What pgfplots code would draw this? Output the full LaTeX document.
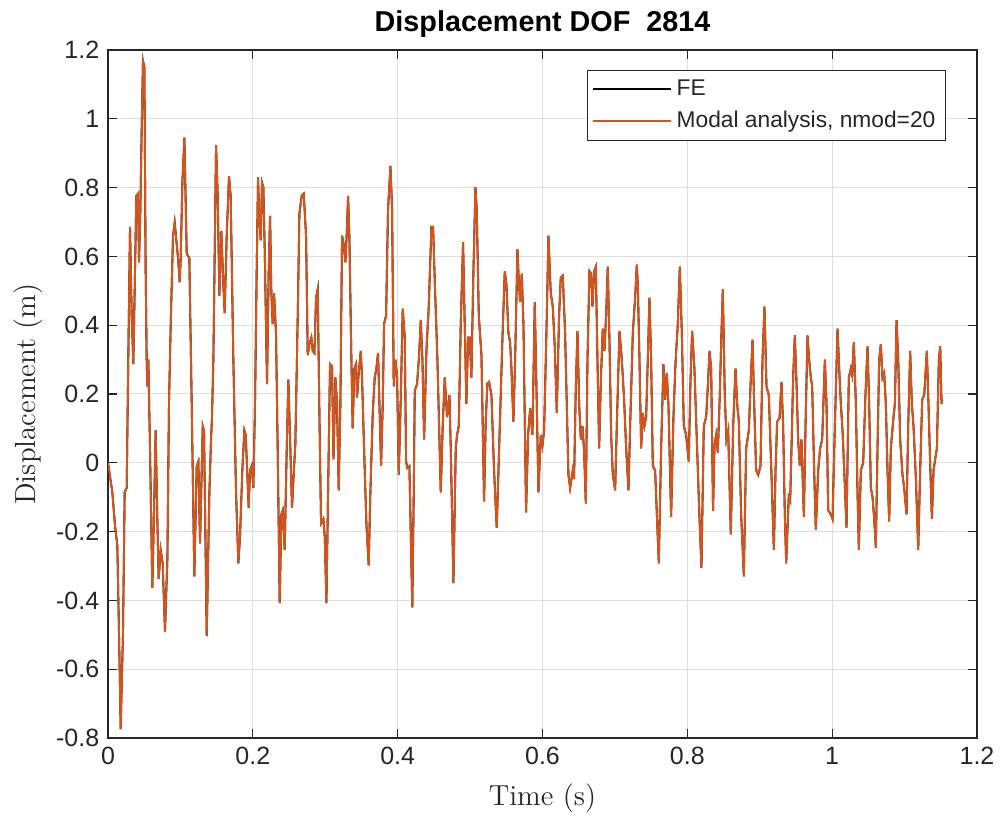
\documentclass[border=0pt]{standalone}
\usepackage{fontspec}
\setsansfont{Liberation Sans}
\usepackage{pgfplots}
\usepackage{pgfplotstable}
\pgfplotsset{compat=1.18}
\definecolor{morange}{rgb}{0.85,0.325,0.098}
\definecolor{mgray}{rgb}{0.15,0.15,0.15}
\definecolor{mgrid}{rgb}{0.875,0.875,0.875}

\pgfplotstableread{
t v
0.0000 0.000
0.0060 -0.086
0.0097 -0.183
0.0129 -0.240
0.0161 -0.600
0.0175 -0.774
0.0207 -0.498
0.0230 -0.086
0.0258 -0.073
0.0280 0.300
0.0304 0.686
0.0327 0.428
0.0350 0.287
0.0373 0.557
0.0391 0.776
0.0414 0.782
0.0428 0.583
0.0446 0.724
0.0465 0.968
0.0483 1.168
0.0502 1.149
0.0520 0.557
0.0534 0.300
0.0543 0.222
0.0557 0.300
0.0580 0.042
0.0612 -0.363
0.0635 -0.150
0.0658 0.094
0.0681 -0.163
0.0700 -0.337
0.0727 -0.253
0.0755 -0.292
0.0787 -0.491
0.0820 -0.279
0.0842 0.171
0.0866 0.403
0.0898 0.660
0.0921 0.698
0.0944 0.647
0.0967 0.595
0.0990 0.525
0.1004 0.595
0.1027 0.814
0.1055 0.945
0.1087 0.608
0.1123 0.595
0.1156 0.171
0.1192 -0.330
0.1225 -0.009
0.1248 0.004
0.1271 -0.234
0.1308 0.107
0.1326 0.094
0.1363 -0.504
0.1400 -0.086
0.1423 0.068
0.1436 0.133
0.1455 0.300
0.1492 0.923
0.1515 0.776
0.1538 0.486
0.1565 0.673
0.1593 0.518
0.1611 0.435
0.1639 0.660
0.1671 0.833
0.1694 0.776
0.1731 0.300
0.1768 -0.086
0.1800 -0.292
0.1823 -0.215
0.1855 -0.022
0.1883 0.094
0.1902 0.081
0.1924 -0.035
0.1943 -0.131
0.1961 -0.022
0.1984 -0.009
0.2007 -0.073
0.2030 0.171
0.2053 0.557
0.2072 0.830
0.2090 0.711
0.2109 0.647
0.2127 0.814
0.2145 0.801
0.2164 0.621
0.2196 0.229
0.2219 0.557
0.2238 0.718
0.2256 0.493
0.2274 0.403
0.2293 0.493
0.2320 0.377
0.2343 0.042
0.2371 -0.408
0.2394 -0.150
0.2413 -0.138
0.2440 -0.253
0.2468 0.042
0.2491 0.242
0.2518 0.042
0.2541 -0.131
0.2564 -0.035
0.2587 0.055
0.2620 0.428
0.2643 0.724
0.2675 0.776
0.2703 0.782
0.2735 0.660
0.2758 0.313
0.2781 0.345
0.2808 0.364
0.2827 0.325
0.2850 0.319
0.2873 0.480
0.2896 0.505
0.2919 0.145
0.2942 -0.176
0.2974 -0.163
0.2993 -0.215
0.3016 -0.408
0.3039 -0.086
0.3066 0.287
0.3094 0.280
0.3114 0.010
0.3140 0.248
0.3163 0.171
0.3186 -0.080
0.3209 0.171
0.3232 0.660
0.3255 0.634
0.3278 0.583
0.3301 0.686
0.3315 0.776
0.3333 0.660
0.3361 0.300
0.3379 0.100
0.3402 0.274
0.3425 0.287
0.3439 0.190
0.3462 0.261
0.3490 0.325
0.3508 0.248
0.3536 0.042
0.3568 -0.176
0.3600 -0.298
0.3623 -0.086
0.3656 0.145
0.3683 0.248
0.3706 0.274
0.3729 0.319
0.3748 0.171
0.3771 -0.009
0.3794 0.171
0.3812 0.403
0.3840 0.428
0.3867 0.737
0.3900 0.863
0.3923 0.737
0.3946 0.222
0.3969 0.300
0.3992 0.250
0.4015 -0.035
0.4038 0.145
0.4070 0.448
0.4098 0.364
0.4116 0.004
0.4134 -0.015
0.4162 -0.010
0.4185 -0.250
0.4202 -0.420
0.4222 -0.086
0.4236 0.210
0.4268 0.229
0.4296 0.313
0.4319 0.415
0.4342 0.300
0.4365 0.068
0.4397 0.325
0.4429 0.454
0.4466 0.686
0.4489 0.686
0.4512 0.531
0.4549 0.300
0.4595 -0.086
0.4622 0.107
0.4650 0.248
0.4682 0.133
0.4715 0.197
0.4733 0.042
0.4770 -0.350
0.4802 0.042
0.4820 0.081
0.4844 0.107
0.4871 0.403
0.4903 0.641
0.4926 0.403
0.4949 0.171
0.4972 0.364
0.4995 0.364
0.5018 0.248
0.5046 0.557
0.5074 0.801
0.5092 0.737
0.5120 0.428
0.5157 0.313
0.5193 -0.112
0.5216 0.120
0.5239 0.230
0.5262 0.235
0.5295 0.197
0.5331 -0.022
0.5368 -0.189
0.5401 0.042
0.5447 0.364
0.5479 0.557
0.5502 0.518
0.5529 0.377
0.5552 0.351
0.5571 0.274
0.5598 0.120
0.5622 0.300
0.5654 0.621
0.5672 0.531
0.5691 0.467
0.5714 0.550
0.5737 0.403
0.5773 -0.144
0.5801 0.081
0.5829 0.158
0.5861 0.081
0.5893 0.467
0.5921 0.171
0.5944 -0.086
0.5976 0.081
0.5999 0.049
0.6022 0.094
0.6054 0.377
0.6082 0.660
0.6114 0.493
0.6142 0.454
0.6169 0.338
0.6197 0.145
0.6229 0.428
0.6252 0.538
0.6280 0.544
0.6312 0.377
0.6335 0.171
0.6358 -0.035
0.6381 -0.073
0.6418 -0.022
0.6436 -0.047
0.6460 0.222
0.6483 0.383
0.6506 0.171
0.6529 0.068
0.6552 0.107
0.6575 0.030
0.6598 -0.118
0.6621 0.300
0.6648 0.557
0.6671 0.550
0.6690 0.454
0.6713 0.557
0.6736 0.570
0.6759 0.300
0.6782 0.042
0.6805 0.235
0.6832 0.390
0.6855 0.325
0.6878 0.428
0.6901 0.570
0.6924 0.364
0.6948 0.081
0.6971 -0.035
0.7003 -0.080
0.7026 0.107
0.7063 0.383
0.7095 0.300
0.7127 0.184
0.7155 0.042
0.7187 -0.080
0.7210 0.107
0.7247 0.377
0.7279 0.480
0.7302 0.576
0.7316 0.518
0.7339 0.300
0.7362 0.042
0.7385 0.145
0.7408 0.107
0.7431 0.133
0.7454 0.300
0.7477 0.480
0.7500 0.300
0.7523 -0.009
0.7555 -0.022
0.7606 -0.292
0.7638 0.042
0.7670 0.287
0.7693 0.184
0.7716 0.261
0.7739 0.171
0.7776 -0.157
0.7808 0.133
0.7836 0.287
0.7868 0.403
0.7896 0.570
0.7924 0.377
0.7951 0.107
0.7983 0.081
0.8020 0.004
0.8043 0.235
0.8066 0.383
0.8098 0.274
0.8135 0.042
0.8168 -0.163
0.8195 -0.305
0.8227 0.107
0.8260 0.133
0.8283 0.222
0.8306 0.325
0.8329 0.274
0.8355 -0.140
0.8375 0.050
0.8398 0.081
0.8421 0.030
0.8448 0.197
0.8471 0.377
0.8490 0.505
0.8517 0.197
0.8540 0.068
0.8564 0.094
0.8600 -0.208
0.8633 0.107
0.8665 0.274
0.8688 0.171
0.8711 0.120
0.8743 -0.150
0.8780 -0.330
0.8812 0.042
0.8849 0.094
0.8872 0.222
0.8900 0.358
0.8923 0.171
0.8950 -0.022
0.8978 -0.035
0.9010 -0.009
0.9038 0.300
0.9065 0.454
0.9093 0.222
0.9125 0.197
0.9162 -0.035
0.9195 -0.253
0.9218 -0.022
0.9240 0.120
0.9273 0.130
0.9300 0.235
0.9323 0.107
0.9346 -0.150
0.9365 -0.292
0.9400 -0.100
0.9420 -0.110
0.9445 0.100
0.9461 0.248
0.9484 0.370
0.9507 0.235
0.9530 0.068
0.9553 -0.009
0.9576 0.068
0.9609 -0.157
0.9632 0.107
0.9659 0.370
0.9682 0.300
0.9705 0.248
0.9724 0.222
0.9751 -0.022
0.9774 -0.195
0.9807 -0.022
0.9834 0.042
0.9862 0.068
0.9899 0.300
0.9922 0.171
0.9945 -0.138
0.9982 -0.150
1.0005 -0.163
1.0037 0.107
1.0074 0.390
1.0097 0.274
1.0120 0.171
1.0143 0.094
1.0166 -0.022
1.0198 -0.189
1.0230 0.248
1.0258 0.274
1.0276 0.255
1.0299 0.351
1.0327 0.171
1.0350 -0.086
1.0368 -0.253
1.0396 -0.022
1.0428 0.000
1.0460 0.200
1.0488 0.338
1.0511 0.171
1.0534 -0.073
1.0557 -0.099
1.0580 -0.163
1.0603 -0.247
1.0626 0.042
1.0649 0.300
1.0672 0.345
1.0695 0.248
1.0718 0.261
1.0741 0.171
1.0764 -0.022
1.0787 -0.170
1.0810 0.042
1.0847 0.133
1.0866 0.171
1.0889 0.415
1.0912 0.300
1.0939 0.068
1.0971 -0.035
1.0994 -0.073
1.1027 -0.150
1.1050 0.107
1.1077 0.325
1.1100 0.171
1.1123 0.107
1.1156 -0.047
1.1188 -0.253
1.1215 -0.022
1.1243 0.184
1.1271 0.197
1.1307 0.325
1.1330 0.171
1.1354 -0.009
1.1377 -0.163
1.1400 -0.022
1.1427 0.017
1.1446 0.042
1.1473 0.300
1.1492 0.338
1.1510 0.171
1.1520 0.184
}\data

\begin{document}
\begin{tikzpicture}
\path[use as bounding box] (-43.2pt,-30.8pt) rectangle ++(400.4pt,326pt);
\begin{axis}[
  scale only axis, width=347.6pt, height=275.2pt,
  xmin=0, xmax=1.2, ymin=-0.8, ymax=1.2,
  xtick={0,0.2,0.4,0.6,0.8,1,1.2},
  ytick={-0.8,-0.6,-0.4,-0.2,0,0.2,0.4,0.6,0.8,1,1.2},
  grid=major,
  major grid style={mgrid, line width=0.4pt},
  axis line style={mgray, line width=0.5pt},
  tick style={mgray, line width=0.5pt},
  tick align=inside, major tick length=3.5pt,
  /pgf/number format/assume math mode=true,
  /pgf/number format/fixed,
  tick label style={font=\sffamily\fontsize{10}{12}\selectfont, text=mgray},
  xlabel={Time (s)}, ylabel={Displacement (m)},
  label style={font=\fontsize{11.6}{14}\selectfont, text=mgray},
  xlabel style={at={(axis description cs:0.5,-0.0974)}, anchor=base},
  ylabel style={at={(axis description cs:-0.0829,0.5)}, anchor=base},
  legend style={at={(axis description cs:0.9643,0.9709)}, anchor=north east, draw=mgray, line width=0.5pt, font=\sffamily\fontsize{9.1}{11}\selectfont, text=mgray, inner xsep=2pt, inner ysep=1.5pt, row sep=1pt},
  legend cell align=left,
  legend image code/.code={\draw[#1] (0pt,0pt) -- (31pt,0pt);},
]
\addplot[black, line width=0.75pt] table[x=t,y=v]{\data};
\addlegendentry{FE}
\addplot[morange, line width=0.75pt] table[x=t,y=v]{\data};
\addlegendentry{Modal analysis, nmod=20}
\coordinate (topmid) at (rel axis cs:0.5,1);
\end{axis}
\node[anchor=base, font=\sffamily\bfseries\fontsize{11.5}{13}\selectfont, text=black] at ([yshift=7.5pt]topmid) {Displacement DOF\ \ 2814};
\end{tikzpicture}
\end{document}
